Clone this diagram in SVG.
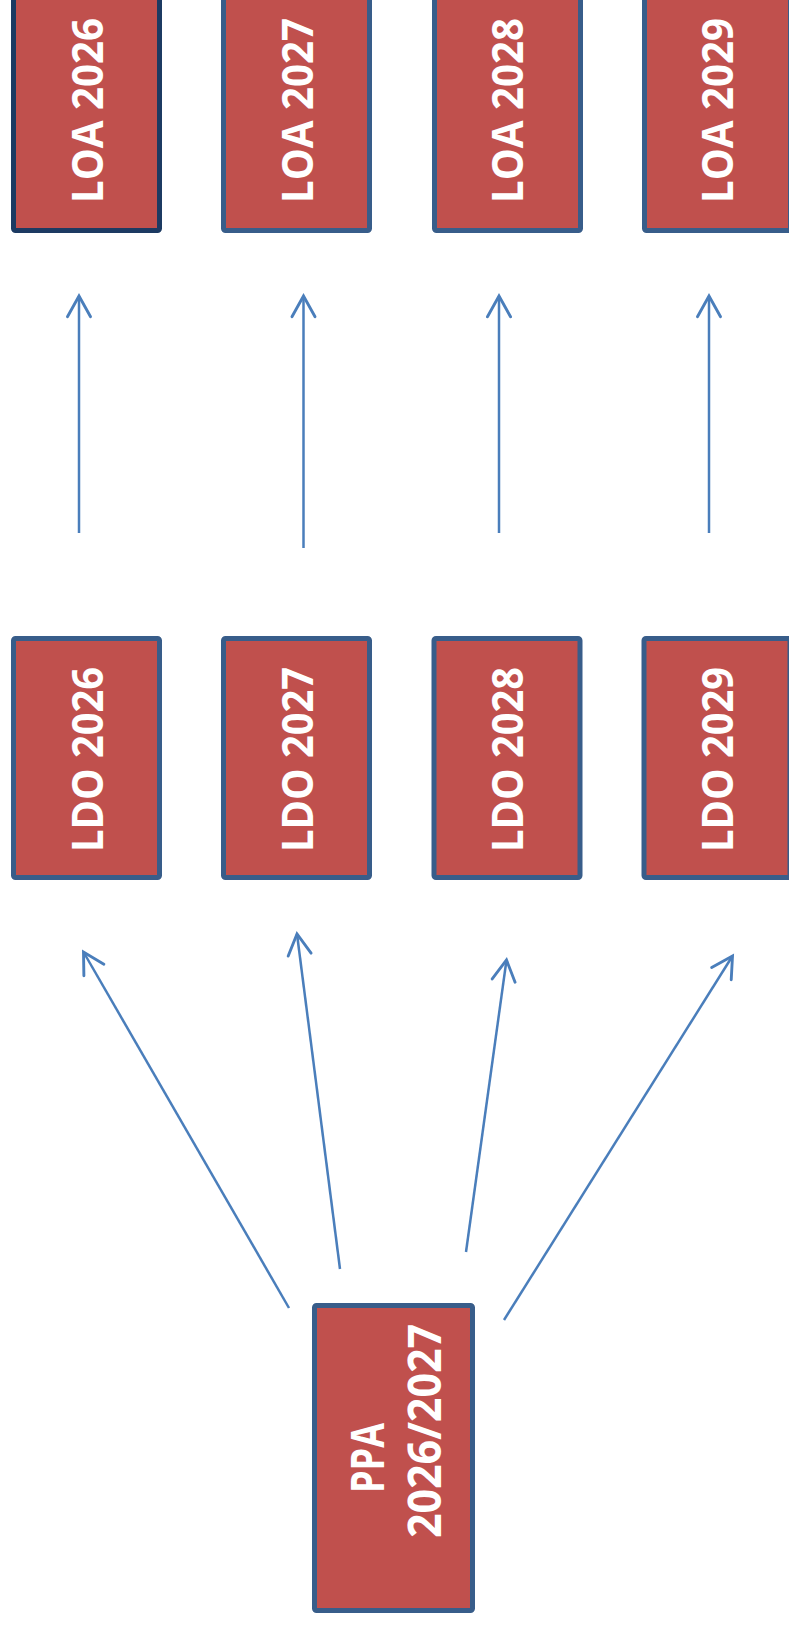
<svg xmlns="http://www.w3.org/2000/svg" width="789" height="1626" viewBox="0 0 789 1626">
<style>
.box{fill:#C0504D;stroke:#385D8A;stroke-width:5;}
.box.dark{stroke:#1C3A62;}
.lbl{font-family:"Open Sans","Liberation Sans",sans-serif;font-weight:bold;fill:#FFFFFF;text-anchor:middle;}
.conn{fill:none;stroke:#4A7EBB;stroke-width:2.5;marker-end:url(#arr);}
</style>
<defs>
<marker id="arr" markerUnits="userSpaceOnUse" markerWidth="30" markerHeight="30" refX="0" refY="0" viewBox="-22 -13 25 26" orient="auto" overflow="visible">
<path d="M-18,-10 L0,0 L-18,10" fill="none" stroke="#4A7EBB" stroke-width="2.5" stroke-linecap="round" stroke-linejoin="miter"/>
</marker>
</defs>
<rect width="789" height="1626" fill="#FFFFFF"/>
<g id="loa2026"><rect class="box dark" x="13.5" y="-8.5" width="146" height="239" rx="2"/><text class="lbl" font-size="43" textLength="185" lengthAdjust="spacingAndGlyphs" transform="translate(103,110.5) rotate(-90)">LOA 2026</text></g>
<g id="loa2027"><rect class="box" x="223.5" y="-8.5" width="146" height="239" rx="2"/><text class="lbl" font-size="43" textLength="185" lengthAdjust="spacingAndGlyphs" transform="translate(313,110.5) rotate(-90)">LOA 2027</text></g>
<g id="loa2028"><rect class="box" x="434.5" y="-8.5" width="146" height="239" rx="2"/><text class="lbl" font-size="43" textLength="185" lengthAdjust="spacingAndGlyphs" transform="translate(523,110.5) rotate(-90)">LOA 2028</text></g>
<g id="loa2029"><rect class="box" x="644.5" y="-8.5" width="146" height="239" rx="2"/><text class="lbl" font-size="43" textLength="185" lengthAdjust="spacingAndGlyphs" transform="translate(733,110.5) rotate(-90)">LOA 2029</text></g>
<g id="ldo2026"><rect class="box" x="13.5" y="638.5" width="146" height="239" rx="2"/><text class="lbl" font-size="43" textLength="185" lengthAdjust="spacingAndGlyphs" transform="translate(103,759.5) rotate(-90)">LDO 2026</text></g>
<g id="ldo2027"><rect class="box" x="223.5" y="638.5" width="146" height="239" rx="2"/><text class="lbl" font-size="43" textLength="185" lengthAdjust="spacingAndGlyphs" transform="translate(313,759.5) rotate(-90)">LDO 2027</text></g>
<g id="ldo2028"><rect class="box" x="434" y="638.5" width="146" height="239" rx="2"/><text class="lbl" font-size="43" textLength="185" lengthAdjust="spacingAndGlyphs" transform="translate(523,759.5) rotate(-90)">LDO 2028</text></g>
<g id="ldo2029"><rect class="box" x="644" y="638.5" width="146" height="239" rx="2"/><text class="lbl" font-size="43" textLength="185" lengthAdjust="spacingAndGlyphs" transform="translate(733,759.5) rotate(-90)">LDO 2029</text></g>
<g id="ppa"><rect class="box" x="314.5" y="1305.5" width="158" height="305" rx="2"/><text class="lbl" font-size="46" textLength="70" lengthAdjust="spacingAndGlyphs" transform="translate(384,1458) rotate(-90)">PPA</text><text class="lbl" font-size="46" textLength="214" lengthAdjust="spacingAndGlyphs" transform="translate(441,1431) rotate(-90)">2026/2027</text></g>
<g id="connectors">
<line class="conn" x1="79" y1="533" x2="79" y2="296"/>
<line class="conn" x1="303.5" y1="548" x2="303.5" y2="296"/>
<line class="conn" x1="499" y1="533" x2="499" y2="296"/>
<line class="conn" x1="709" y1="533" x2="709" y2="296"/>
<line class="conn" x1="289" y1="1308" x2="83.5" y2="952"/>
<line class="conn" x1="340" y1="1269" x2="297" y2="934"/>
<line class="conn" x1="466" y1="1252" x2="506.5" y2="960"/>
<line class="conn" x1="504" y1="1320" x2="732.5" y2="956"/>
</g>
</svg>
